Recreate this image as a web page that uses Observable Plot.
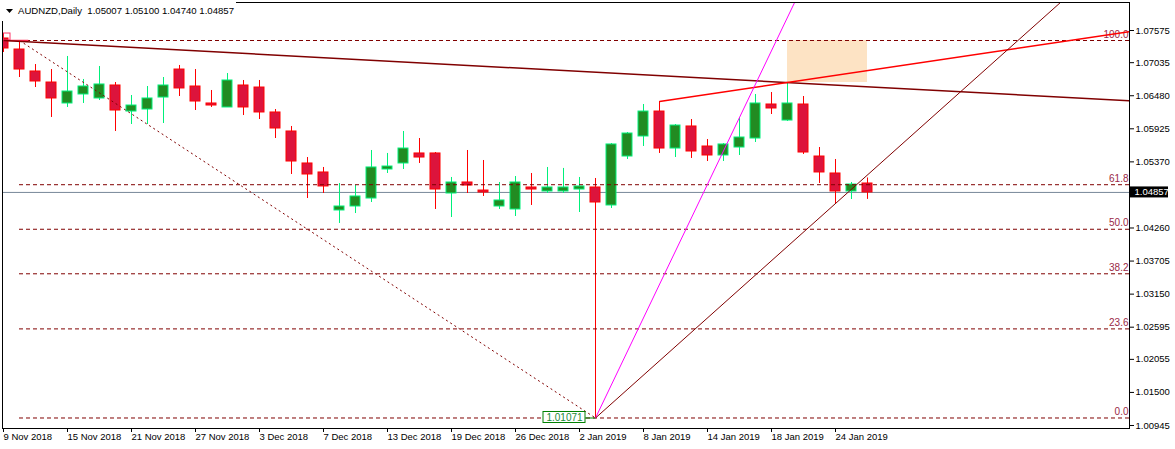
<!DOCTYPE html>
<html><head><meta charset="utf-8">
<script src="https://cdn.jsdelivr.net/npm/d3@7"></script>
<script src="https://cdn.jsdelivr.net/npm/@observablehq/plot@0.6"></script>
<style>
html,body{margin:0;padding:0;background:#fff;overflow:hidden}
#wrap{position:relative;width:1175px;height:449px}
#title{position:absolute;left:0;top:0;width:236px;height:21px;background:#fff;font:9.6px "Liberation Sans",Arial,sans-serif;color:#000;z-index:2}
#title span{position:absolute;left:18px;top:5px;white-space:pre}
svg text{font-family:"Liberation Sans",Arial,sans-serif}
</style></head>
<body><div id="wrap"><div id="title"><svg width="8" height="5" style="position:absolute;left:6px;top:9px"><polygon points="0,0 7,0 3.5,4" fill="#000"/></svg><span id="ttl"></span></div><div id="chart"></div></div>
<script>
const symbol = "AUDNZD,Daily";
const dates = ["9 Nov 2018","12 Nov 2018","13 Nov 2018","14 Nov 2018","15 Nov 2018","16 Nov 2018","19 Nov 2018","20 Nov 2018","21 Nov 2018","22 Nov 2018","23 Nov 2018","26 Nov 2018","27 Nov 2018","28 Nov 2018","29 Nov 2018","30 Nov 2018","3 Dec 2018","4 Dec 2018","5 Dec 2018","6 Dec 2018","7 Dec 2018","10 Dec 2018","11 Dec 2018","12 Dec 2018","13 Dec 2018","14 Dec 2018","17 Dec 2018","18 Dec 2018","19 Dec 2018","20 Dec 2018","21 Dec 2018","24 Dec 2018","26 Dec 2018","27 Dec 2018","28 Dec 2018","31 Dec 2018","2 Jan 2019","3 Jan 2019","4 Jan 2019","7 Jan 2019","8 Jan 2019","9 Jan 2019","10 Jan 2019","11 Jan 2019","14 Jan 2019","15 Jan 2019","16 Jan 2019","17 Jan 2019","18 Jan 2019","21 Jan 2019","22 Jan 2019","23 Jan 2019","24 Jan 2019","25 Jan 2019","28 Jan 2019"];
const open  = [1.07441,1.07256,1.06887,1.06702,1.06350,1.06501,1.06434,1.06652,1.06215,1.06249,1.06450,1.06920,1.06635,1.06350,1.06283,1.06652,1.06618,1.06199,1.05880,1.05343,1.05192,1.04554,1.04621,1.04755,1.05242,1.05343,1.05511,1.05511,1.04839,1.05024,1.04889,1.04621,1.04571,1.04940,1.04873,1.04873,1.04906,1.04940,1.04638,1.05460,1.05796,1.06215,1.05594,1.05964,1.05628,1.05477,1.05611,1.05762,1.06333,1.06064,1.06333,1.05460,1.05175,1.04873,1.05007];
const high  = [1.07525,1.07407,1.07004,1.06920,1.07139,1.06753,1.06971,1.06702,1.06484,1.06635,1.06786,1.06988,1.06920,1.06568,1.06853,1.06736,1.06736,1.06249,1.05964,1.05443,1.05276,1.05007,1.04973,1.05561,1.05511,1.05880,1.05762,1.05527,1.05108,1.05561,1.05393,1.05024,1.05124,1.05175,1.05276,1.05260,1.05108,1.05091,1.05678,1.05863,1.06333,1.06383,1.05997,1.06081,1.05745,1.05678,1.06115,1.06501,1.06534,1.06702,1.06467,1.05611,1.05410,1.05024,1.05100];
const low   = [1.07206,1.06786,1.06618,1.06115,1.06283,1.06350,1.06400,1.05880,1.05997,1.05997,1.06014,1.06467,1.06232,1.06283,1.06283,1.06148,1.06081,1.05762,1.05158,1.04755,1.04839,1.04336,1.04503,1.04688,1.05175,1.05242,1.05343,1.04571,1.04436,1.04839,1.04789,1.04571,1.04453,1.04638,1.04839,1.04839,1.04520,1.01071,1.04587,1.05410,1.05628,1.05511,1.05443,1.05427,1.05376,1.05376,1.05477,1.05695,1.06165,1.06048,1.05494,1.05007,1.04671,1.04738,1.04740];
const close = [1.07273,1.06920,1.06719,1.06434,1.06551,1.06635,1.06669,1.06232,1.06316,1.06434,1.06652,1.06602,1.06383,1.06316,1.06736,1.06283,1.06199,1.05930,1.05376,1.05158,1.04957,1.04621,1.04789,1.05276,1.05292,1.05594,1.05443,1.04906,1.05024,1.04973,1.04856,1.04722,1.05024,1.04906,1.04940,1.04940,1.04957,1.04688,1.05662,1.05846,1.06215,1.05594,1.05980,1.05544,1.05477,1.05662,1.05779,1.06350,1.06266,1.06350,1.05527,1.05192,1.04873,1.04990,1.04857];
const xTickBars = [0,4,8,12,16,20,24,28,32,36,40,44,48,52];
const yTicks = [1.07575,1.07035,1.06480,1.05925,1.05370,1.04260,1.03705,1.03150,1.02595,1.02055,1.01500,1.00945];
const lastPrice = 1.04857;
const xDomain = [-0.0625, 70.375];
const yDomain = [1.008946, 1.08045];
const fibHighBar = 1, fibHigh = 1.07407, fibLowBar = 37, fibLow = 1.01071;
const fibLevels = [0, 23.6, 38.2, 50, 61.8, 100];
const zone = [{fromBar: 49, toBar: 54, top: 1.07407, bottom: 1.06702}];
const trendLines = [
  {from: [0, 1.07407], to: [49, 1.06702], color: "#800000", width: 1.5},
  {from: [41, 1.06383], to: [49, 1.06702], color: "#ff0000", width: 1.5},
  {from: [37, 1.01071], to: [46, 1.06115], color: "#ff00ff", width: 1},
  {from: [37, 1.01071], to: [52, 1.04671], color: "#800000", width: 1}
];

const fmt = d3.format(".5f");
document.getElementById("ttl").textContent = symbol + "  " + [open, high, low, close].map(a => fmt(a[a.length-1])).join(" ");

const bars = dates.map((d, i) => ({i, date: d, o: open[i], h: high[i], l: low[i], c: close[i]}));
const up = bars.filter(d => d.c >= d.o), down = bars.filter(d => d.c < d.o);
const half = 5/16;
const ray = t => {
  const s = (t.to[1] - t.from[1]) / (t.to[0] - t.from[0]);
  return {x1: t.from[0], y1: t.from[1], x2: xDomain[1], y2: t.from[1] + s * (xDomain[1] - t.from[0])};
};
const fibRows = fibLevels.map(l => ({label: l.toFixed(1), price: fibLow + (fibHigh - fibLow) * l / 100}));
const fibColor = "#800000", fibText = "#9a2846";

const chart = Plot.plot({
  width: 1175, height: 449,
  marginLeft: 2, marginRight: 46, marginTop: 2, marginBottom: 21,
  x: {domain: xDomain, axis: null},
  y: {domain: yDomain, axis: null},
  style: {fontFamily: "'Liberation Sans', Arial, sans-serif", fontSize: "9.5px", background: "#fff", overflow: "visible"},
  marks: [
    Plot.rect(zone, {x1: "fromBar", x2: "toBar", y1: "top", y2: "bottom", fill: "#fde3c4", clip: true}),
    Plot.ruleY([lastPrice], {stroke: "#778899", clip: true}),
    Plot.ruleX(up, {x: "i", y1: "l", y2: "h", stroke: "#00f07a", clip: true}),
    Plot.ruleX(down, {x: "i", y1: "l", y2: "h", stroke: "#ff0000", clip: true}),
    Plot.rect(up, {x1: d => d.i - half, x2: d => d.i + half, y1: "o", y2: "c", fill: "#228b22", stroke: "#00f07a", clip: true}),
    Plot.rect(down, {x1: d => d.i - half, x2: d => d.i + half, y1: "o", y2: "c", fill: "#dc143c", stroke: "#ff0000", clip: true}),
    Plot.ruleY(fibRows, {y: "price", x1: () => fibHighBar, x2: () => xDomain[1], stroke: fibColor, strokeDasharray: "4,3", clip: true}),
    Plot.text(fibRows, {x: () => xDomain[1], y: "price", text: "label", textAnchor: "end", dx: -1, dy: -6, fill: fibText, fontSize: 10}),
    Plot.link([{x1: fibHighBar, y1: fibHigh, x2: fibLowBar, y2: fibLow}], {x1: "x1", y1: "y1", x2: "x2", y2: "y2", stroke: fibColor, strokeDasharray: "2,3", clip: true}),
    Plot.link([{x1: 0, x2: 1.55, y: fibHigh}], {x1: "x1", x2: "x2", y1: "y", y2: "y", stroke: "#ff2a55", strokeWidth: 1.5, clip: true}),
    Plot.rect([{x: 0, y: fibHigh}], {x1: "x", x2: "x", y1: "y", y2: "y", insetLeft: 0, insetRight: -7, insetTop: -7, insetBottom: 0, fill: "none", stroke: "#ff3366", clip: true}),
    ...trendLines.map(t => Plot.link([ray(t)], {x1: "x1", y1: "y1", x2: "x2", y2: "y2", stroke: t.color, strokeWidth: t.width, clip: true})),
    // low price label
    Plot.ruleY([fibLow], {x1: () => fibLowBar, x2: () => fibLowBar, insetLeft: -10, insetRight: 0, stroke: "#008000"}),
    Plot.rect([{x: fibLowBar, y: fibLow}], {x1: "x", x2: "x", y1: "y", y2: "y", insetLeft: -52, insetRight: 10, insetTop: -6, insetBottom: -5, fill: "#fff", stroke: "#008000"}),
    Plot.text([{x: fibLowBar, y: fibLow}], {x: "x", y: "y", text: d => fmt(d.y), dx: -31, fill: "#1a8a3a", fontSize: 10}),
    Plot.frame({stroke: "#000"}),
    Plot.axisX({ticks: xTickBars, tickFormat: i => dates[i], tickSize: 4, tickPadding: 1, textAnchor: "start", fontSize: 9.5, label: null}),
    Plot.axisY({anchor: "right", ticks: yTicks, tickFormat: fmt, tickSize: 4, tickPadding: 2, fontSize: 9.5, label: null}),
    Plot.rect([{x: xDomain[1], y: lastPrice}], {x1: "x", x2: "x", y1: "y", y2: "y", insetLeft: 1, insetRight: -39, insetTop: -5.5, insetBottom: -5.5, fill: "#000"}),
    Plot.text([{x: xDomain[1], y: lastPrice}], {x: "x", y: "y", text: d => fmt(d.y), textAnchor: "start", dx: 5, fill: "#fff", fontSize: 9.5})
  ]
});
document.getElementById("chart").append(chart);
</script></body></html>
